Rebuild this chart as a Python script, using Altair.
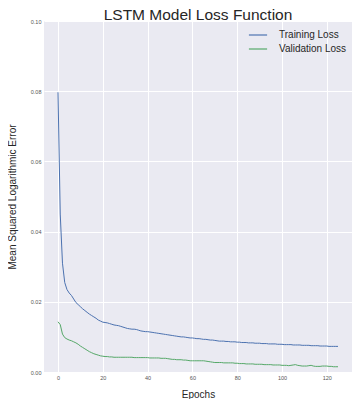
import altair as alt
import pandas as pd

epochs = list(range(126))

training_loss = [
    0.0797, 0.0450, 0.0310, 0.0255, 0.0235, 0.0225, 0.0218, 0.0208, 0.0198, 0.0192,
    0.0186, 0.0180, 0.0175, 0.0170, 0.0165, 0.0161, 0.0157, 0.0153, 0.0148, 0.0145,
    0.0142, 0.0141, 0.0140, 0.0138, 0.0136, 0.0134, 0.0133, 0.0132, 0.0130, 0.0128,
    0.0126, 0.0124, 0.0123, 0.0122, 0.0122, 0.0121, 0.0119, 0.0117, 0.0116, 0.0115,
    0.0115, 0.0114, 0.0113, 0.0112, 0.0111, 0.0110, 0.0109, 0.0108, 0.0107, 0.0106,
    0.0105, 0.0104, 0.0103, 0.0102, 0.0101, 0.0100, 0.0100, 0.0099, 0.0098, 0.0097,
    0.0097, 0.0096, 0.0095, 0.0095, 0.0094, 0.0093, 0.0093, 0.0092, 0.0091, 0.0091,
    0.0090, 0.0089, 0.0088, 0.0088, 0.0088, 0.0087, 0.0087, 0.0086, 0.0086, 0.0086,
    0.0085, 0.0085, 0.0084, 0.0084, 0.0084, 0.0083, 0.0083, 0.0083, 0.0082, 0.0082,
    0.0082, 0.0081, 0.0081, 0.0081, 0.0080, 0.0080, 0.0080, 0.0080, 0.0079, 0.0079,
    0.0079, 0.0078, 0.0078, 0.0078, 0.0078, 0.0077, 0.0077, 0.0077, 0.0077, 0.0076,
    0.0076, 0.0076, 0.0076, 0.0075, 0.0075, 0.0075, 0.0075, 0.0074, 0.0074, 0.0074,
    0.0074, 0.0073, 0.0073, 0.0073, 0.0073, 0.0073,
]

validation_loss = [
    0.0143, 0.0135, 0.0108, 0.0098, 0.0094, 0.0091, 0.0089, 0.0086, 0.0083, 0.0079,
    0.0074, 0.0070, 0.0066, 0.0062, 0.0058, 0.0055, 0.0052, 0.0050, 0.0048, 0.0046,
    0.0045, 0.0044, 0.0044, 0.0043, 0.0043, 0.0042, 0.0042, 0.0042, 0.0042, 0.0042,
    0.0042, 0.0042, 0.0042, 0.0042, 0.0041, 0.0041, 0.0041, 0.0041, 0.0041, 0.0041,
    0.0041, 0.0040, 0.0040, 0.0040, 0.0040, 0.0040, 0.0039, 0.0039, 0.0039, 0.0038,
    0.0037, 0.0036, 0.0036, 0.0035, 0.0035, 0.0035, 0.0034, 0.0034, 0.0033, 0.0032,
    0.0032, 0.0032, 0.0032, 0.0032, 0.0032, 0.0032, 0.0031, 0.0030, 0.0029, 0.0028,
    0.0027, 0.0027, 0.0027, 0.0027, 0.0026, 0.0026, 0.0026, 0.0026, 0.0026, 0.0025,
    0.0025, 0.0024, 0.0024, 0.0024, 0.0023, 0.0023, 0.0023, 0.0023, 0.0022, 0.0022,
    0.0022, 0.0022, 0.0021, 0.0021, 0.0021, 0.0021, 0.0020, 0.0020, 0.0020, 0.0020,
    0.0019, 0.0019, 0.0019, 0.0018, 0.0019, 0.0020, 0.0021, 0.0019, 0.0018, 0.0017,
    0.0017, 0.0017, 0.0018, 0.0019, 0.0017, 0.0016, 0.0016, 0.0016, 0.0017, 0.0017,
    0.0017, 0.0016, 0.0016, 0.0015, 0.0015, 0.0015,
]

series_names = ["Training Loss", "Validation Loss"]
series_colors = ["#4C72B0", "#55A868"]
x_ticks = [0, 20, 40, 60, 80, 100, 120]
y_ticks = [0.0, 0.02, 0.04, 0.06, 0.08, 0.10]

df = pd.DataFrame({
    "epoch": epochs + epochs,
    "loss": training_loss + validation_loss,
    "series": [series_names[0]] * len(epochs) + [series_names[1]] * len(epochs),
})

FONT = "Liberation Sans"

chart = alt.Chart(df).mark_line(strokeWidth=1).encode(
    x=alt.X(
        "epoch:Q",
        scale=alt.Scale(domain=[-6.25, 131.25], nice=False, zero=False),
        axis=alt.Axis(
            values=x_ticks, title="Epochs", format="d",
            titleX=154, titleY=22, titleBaseline="middle", titleAlign="center",
        ),
    ),
    y=alt.Y(
        "loss:Q",
        scale=alt.Scale(domain=[0, 0.1], nice=False),
        axis=alt.Axis(
            values=y_ticks, format=".2f", title="Mean Squared Logarithmic Error",
            titleX=-32, titleY=175.5, titleAngle=270, titleBaseline="middle",
            titleAlign="center",
        ),
    ),
    color=alt.Color(
        "series:N",
        scale=alt.Scale(domain=series_names, range=series_colors),
        legend=alt.Legend(
            title=None, orient="none", legendX=206, legendY=6,
            symbolType="M-1.3,0L1.3,0", symbolSize=196, symbolStrokeWidth=1.2,
            labelFont=FONT, labelFontSize=10, labelColor="#262626",
            labelOffset=13, rowPadding=1, padding=0,
        ),
    ),
).properties(
    width=308,
    height=351,
    title=alt.TitleParams(
        "LSTM Model Loss Function", font=FONT, fontSize=15.5, fontWeight="normal",
        color="#262626", anchor="middle", frame="group", offset=3,
        baseline="bottom", dy=22,
    ),
    autosize=alt.AutoSizeParams(type="none"),
    padding={"left": 36, "top": 13, "right": 0, "bottom": 27},
).configure_view(
    fill="#EAEAF2", strokeWidth=0,
).configure_axis(
    domain=False, ticks=False, grid=True, gridColor="white", gridWidth=1,
    labelFont=FONT, labelFontSize=5.5, labelColor="#555555", labelPadding=3,
    titleFont=FONT, titleFontSize=10, titleFontWeight="normal", titleColor="#262626",
)

chart.save("out.html", embed_options={"renderer": "svg", "actions": False})
